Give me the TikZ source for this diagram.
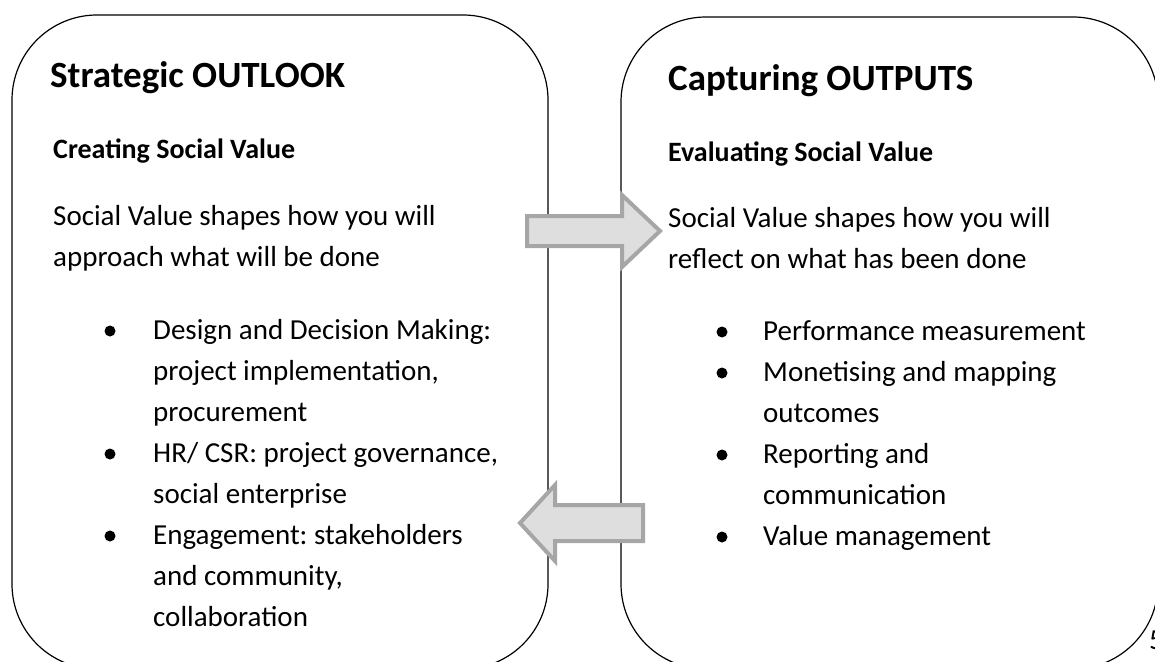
\documentclass[tikz,border=0pt]{standalone}
\usepackage{fontspec}
\setmainfont{Carlito}
\frenchspacing
\definecolor{arrowfill}{RGB}{222,222,222}
\definecolor{arrowline}{RGB}{166,166,166}
\tikzset{
  panel/.style={draw=black, line width=1.2pt, rounded corners=85pt},
  heading/.style={anchor=base west, inner sep=0pt, font=\fontsize{37}{44}\selectfont\bfseries},
  subheading/.style={anchor=base west, inner sep=0pt, font=\fontsize{28}{34}\selectfont\bfseries},
  txt/.style={anchor=base west, inner sep=0pt, font=\fontsize{29}{41}\selectfont},
  dot/.style={circle, fill=black, inner sep=0pt, minimum size=11pt},
  blockarrow/.style={fill=arrowfill, draw=arrowline, line width=4pt}
}

\begin{document}
\begin{tikzpicture}[x=1pt,y=-1pt]
\useasboundingbox (0,0) rectangle (1155,661);
\clip (0,0) rectangle (1155,661);

% the two rounded panels, both run off the bottom
\draw [panel] (12,15) rectangle (548,669);
\draw [panel] (621,17) rectangle (1158,669);

% left panel
\node [heading] (outlook) at (50,87) {Strategic OUTLOOK};
\node [subheading] (creating) at (53,158) {Creating Social Value};
\node [txt] (lbody1) at (53,225) {Social Value shapes how you will};
\node [txt] (lbody2) at (53,266) {approach what will be done};
\foreach \txt [count=\i] in {Design and Decision Making:, {project implementation,}, procurement,
    {HR/ CSR: project governance,}, social enterprise, Engagement: stakeholders,
    {and community,}, collaboration}
  \node [txt] (lline\i) at (153,{339+41*(\i-1)}) {\txt};
\foreach \i in {1,4,6}
  \node [dot] (ldot\i) at (110,{331+41*(\i-1)}) {};

% right panel
\node [heading] (outputs) at (668,90) {Capturing OUTPUTS};
\node [subheading] (evaluating) at (668,161) {Evaluating Social Value};
\node [txt] (rbody1) at (668,227) {Social Value shapes how you will};
\node [txt] (rbody2) at (668,268) {reflect on what has been done};
\foreach \txt [count=\i] in {Performance measurement, Monetising and mapping, outcomes,
    Reporting and, communication, Value management}
  \node [txt] (rline\i) at (763,{340+41*(\i-1)}) {\txt};
\foreach \i in {1,2,4,6}
  \node [dot] (rdot\i) at (722,{332+41*(\i-1)}) {};

% page number
\node [txt] (page) at (1149,649) {5};

% block arrows between the panels
\draw [blockarrow] (527,216) -- (622,216) -- (622,195) -- (660,231) -- (622,267)
  -- (622,246) -- (527,246) -- cycle;
\draw [blockarrow] (643,505) -- (555,505) -- (555,485) -- (520,523) -- (555,561)
  -- (555,541) -- (643,541) -- cycle;

\end{tikzpicture}
\end{document}
